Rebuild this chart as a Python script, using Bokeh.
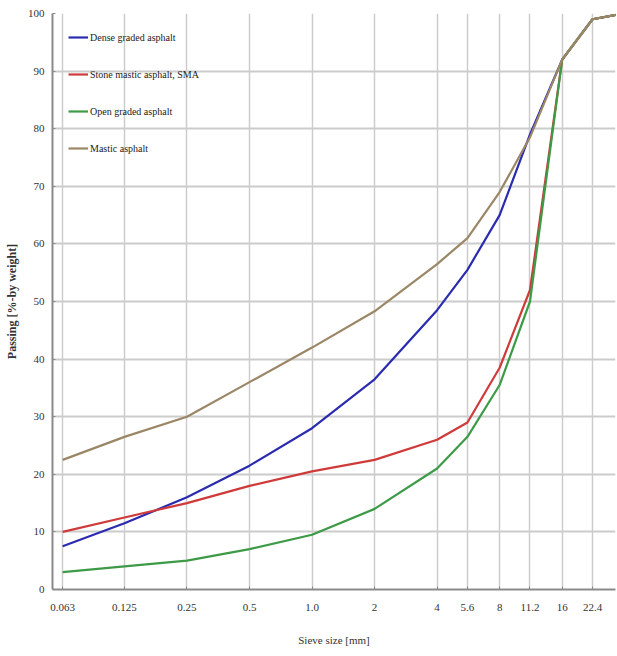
from bokeh.plotting import figure
from bokeh.models import FixedTicker, Legend, LegendItem, Range1d
from bokeh.embed import file_html
from bokeh.resources import INLINE

sieve_sizes = [0.063, 0.125, 0.25, 0.5, 1.0, 2, 4, 5.6, 8, 11.2, 16, 22.4, 31.5]
tick_labels = ["0.063", "0.125", "0.25", "0.5", "1.0", "2", "4", "5.6", "8", "11.2", "16", "22.4"]

dense_graded = [7.5, 11.5, 16, 21.5, 28, 36.5, 48.5, 55.5, 65, 79, 92, 99, 100]
stone_mastic = [10, 12.5, 15, 18, 20.5, 22.5, 26, 29, 38.5, 52, 92, 99, 100]
open_graded = [3, 4, 5, 7, 9.5, 14, 21, 26.5, 35.5, 50, 92, 99, 100]
mastic = [22.5, 26.5, 30, 36, 42, 48.3, 56.5, 61, 69, 78.5, 92, 99, 100]

series_names = ["Dense graded asphalt", "Stone mastic asphalt, SMA", "Open graded asphalt", "Mastic asphalt"]
series_colors = ["#2b2bb0", "#cf3a3a", "#3d9a46", "#9b8766"]

FONT = "Liberation Serif"

p = figure(width=616, height=648, x_axis_type="log",
           x_range=Range1d(0.0563, 28.9), y_range=Range1d(0, 100),
           output_backend="svg", toolbar_location=None,
           min_border_left=52, min_border_top=13, min_border_right=1, min_border_bottom=54)
p.outline_line_color = None
p.background_fill_color = "white"

renderers = []
for ys, c in zip([dense_graded, stone_mastic, open_graded, mastic], series_colors):
    r = p.line(sieve_sizes, ys, line_color=c, line_width=2.2)
    renderers.append(r)

items = [LegendItem(label=n, renderers=[r]) for n, r in zip(series_names, renderers)]
legend = Legend(items=items, location=(16, 431), margin=0, padding=0,
                spacing=17, label_height=20, glyph_height=20, glyph_width=20,
                label_standoff=2, border_line_color=None, background_fill_alpha=0,
                label_text_font=FONT, label_text_font_size="10px", label_text_color="#222222")
p.add_layout(legend)

p.xaxis.ticker = FixedTicker(ticks=sieve_sizes[:-1])
p.xaxis.major_label_overrides = {v: t for v, t in zip(sieve_sizes[:-1], tick_labels)}
p.yaxis.ticker = FixedTicker(ticks=list(range(0, 101, 10)))

for ax in [p.xaxis[0], p.yaxis[0]]:
    ax.axis_line_color = "#8a8a8a"
    ax.axis_line_width = 2
    ax.major_tick_line_color = "#8a8a8a"
    ax.major_tick_in = 3
    ax.major_tick_out = 0
    ax.minor_tick_line_color = None
    ax.major_label_text_font = FONT
    ax.major_label_text_font_size = "11px"
    ax.major_label_text_color = "#333333"
    ax.axis_label_text_font = FONT
    ax.axis_label_text_color = "#333333"

p.xaxis.axis_label = "Sieve size [mm]"
p.xaxis.axis_label_text_font_size = "11px"
p.xaxis.axis_label_text_font_style = "normal"
p.xaxis.major_label_standoff = 14
p.xaxis.axis_label_standoff = 20

p.yaxis.axis_label = "Passing [%-by weight]"
p.yaxis.axis_label_text_font_size = "12px"
p.yaxis.axis_label_text_font_style = "bold"
p.yaxis.major_label_standoff = 8
p.yaxis.axis_label_standoff = 6

p.xgrid.grid_line_color = "#cccccc"
p.xgrid.grid_line_width = 1.5
p.ygrid.grid_line_color = "#cccccc"
p.ygrid.grid_line_width = 2

open("out.html", "w").write(file_html(p, INLINE))
